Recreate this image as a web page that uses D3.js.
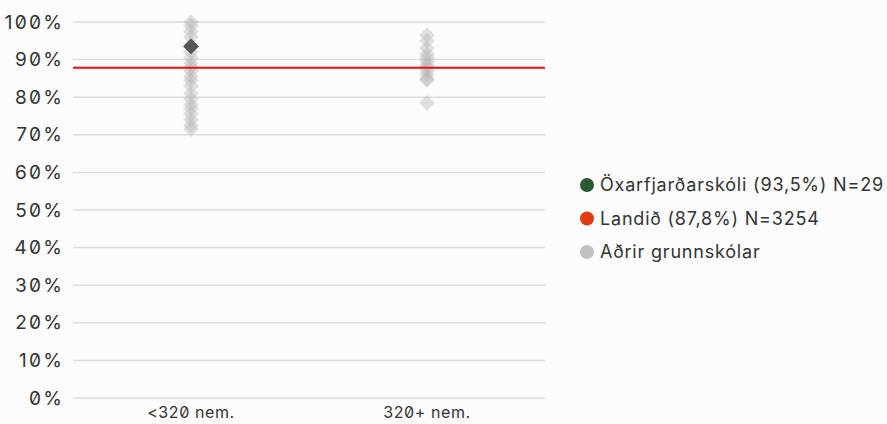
<!DOCTYPE html>
<html><head><meta charset="utf-8">
<script src="https://cdn.jsdelivr.net/npm/d3@7"></script>
<style>
body{margin:0;background:#fcfcfc;}
svg text{font-family:Inter,"Noto Sans",sans-serif;font-feature-settings:"zero" 1;fill:#333;}
</style></head><body>
<svg id="c" width="887" height="424"></svg>
<script>
const categories = ["<320 nem.", "320+ nem."];
const otherSmall = [100, 99, 97.5, 96, 94, 92, 90.5, 89, 88, 87, 85.5, 84.5, 83, 81, 79.5, 78, 77, 75.5, 74, 72.5, 71.5];
const otherLarge = [96.5, 95, 93, 91.5, 90.5, 89.5, 88.5, 88, 87, 86, 85, 84.5, 78.5];
const schoolCategory = "<320 nem.";
const schoolValue = 93.5;
const nationalValue = 87.8;
const yTicks = [0, 10, 20, 30, 40, 50, 60, 70, 80, 90, 100];
const legendLabels = ["Öxarfjarðarskóli (93,5%) N=29", "Landið (87,8%) N=3254", "Aðrir grunnskólar"];
const legendColors = ["#2e5a30", "#e03c14", "#c0c0c0"];

const svg = d3.select("#c");
const m = {l:73, r:342, t:22, b:26};
const W = 887, H = 424;
const x = d3.scaleBand().domain(categories).range([m.l, W - m.r]);
const y = d3.scaleLinear().domain([0, 100]).range([H - m.b, m.t]);

// grid
svg.append("g").selectAll("line").data(yTicks).join("line")
  .attr("x1", m.l).attr("x2", W - m.r)
  .attr("y1", d => y(d)).attr("y2", d => y(d))
  .attr("stroke", "#dcdcdc").attr("stroke-width", 1.5);

const yAxis = svg.append("g").attr("transform", `translate(${m.l},0)`)
  .call(d3.axisLeft(y).tickValues(yTicks).tickFormat(d => d + "%").tickSize(0).tickPadding(9));
yAxis.select(".domain").remove();
yAxis.selectAll("text").attr("font-size", 19).attr("letter-spacing", 2.2).style("fill", "#333");

const xAxis = svg.append("g").attr("transform", `translate(0,${H - m.b})`)
  .call(d3.axisBottom(x).tickSize(0).tickPadding(9));
xAxis.select(".domain").remove();
xAxis.selectAll("text").attr("font-size", 16).attr("letter-spacing", 0.6).style("fill", "#333");

const diamond = d3.symbol().type(d3.symbolDiamond2).size(155);
const others = [
  ...otherSmall.map(v => ({c: categories[0], v})),
  ...otherLarge.map(v => ({c: categories[1], v}))
];
svg.append("g").selectAll("path").data(others).join("path")
  .attr("d", diamond)
  .attr("transform", d => `translate(${x(d.c) + x.bandwidth()/2},${y(d.v)})`)
  .attr("fill", "#b8b8b8").attr("fill-opacity", 0.42);

// national line
svg.append("line")
  .attr("x1", m.l).attr("x2", W - m.r)
  .attr("y1", y(nationalValue)).attr("y2", y(nationalValue))
  .attr("stroke", "#e8100c").attr("stroke-width", 2);

// school
svg.append("path")
  .attr("d", d3.symbol().type(d3.symbolDiamond2).size(160))
  .attr("transform", `translate(${x(schoolCategory) + x.bandwidth()/2},${y(schoolValue)})`)
  .attr("fill", "#555");

// legend
const lg = svg.append("g").attr("transform", "translate(587,185)");
const items = lg.selectAll("g").data(legendLabels).join("g")
  .attr("transform", (d, i) => `translate(0,${i * 33.5})`);
items.append("circle").attr("r", 7).attr("fill", (d, i) => legendColors[i]);
items.append("text").attr("x", 13).attr("dy", "0.35em").attr("font-size", 18).attr("letter-spacing", 0.8).text(d => d);
</script>
</body></html>
